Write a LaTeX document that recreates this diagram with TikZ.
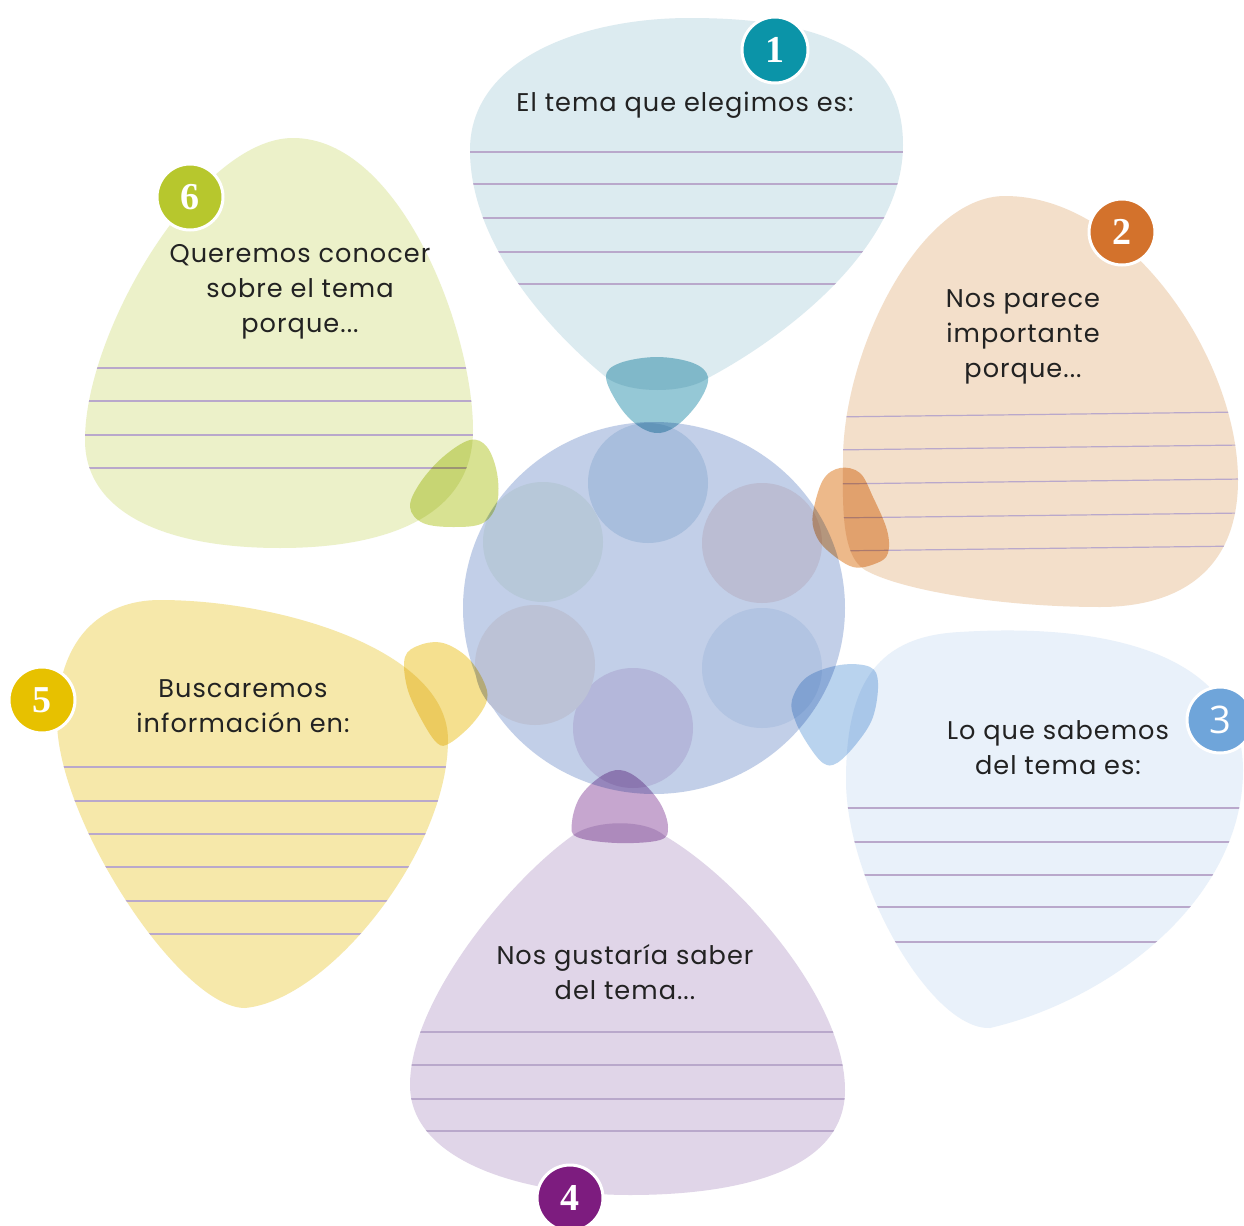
\documentclass[tikz,border=0pt]{standalone}
\usepackage{fontspec}
\newfontfamily\hand{Poppins}[LetterSpace=4]
\newfontfamily\numserif{Liberation Serif}
\newfontfamily\numsans{Open Sans}
\definecolor{colpa}{HTML}{DCEBF0}
\definecolor{colpb}{HTML}{F3DFCA}
\definecolor{colpc}{HTML}{E9F1FA}
\definecolor{colpd}{HTML}{E0D5E8}
\definecolor{colpe}{HTML}{F6E8AA}
\definecolor{colpf}{HTML}{ECF1C9}
\definecolor{colba}{HTML}{0B94A8}
\definecolor{colbb}{HTML}{D3722C}
\definecolor{colbc}{HTML}{6FA5DA}
\definecolor{colbd}{HTML}{7D1C7F}
\definecolor{colbe}{HTML}{E7C100}
\definecolor{colbf}{HTML}{B7C72D}
\definecolor{colca}{HTML}{95C8D6}
\definecolor{colcb}{HTML}{EDB98A}
\definecolor{colcc}{HTML}{B9D3EE}
\definecolor{colcd}{HTML}{C6A6CF}
\definecolor{colce}{HTML}{F5E08F}
\definecolor{colcf}{HTML}{D8E292}
\definecolor{colmain}{HTML}{C2CFE8}
\definecolor{colia}{HTML}{A8BEDD}
\definecolor{colib}{HTML}{BBBDD3}
\definecolor{colic}{HTML}{B2C4E2}
\definecolor{colid}{HTML}{B4B7DA}
\definecolor{colie}{HTML}{BCC2D6}
\definecolor{colif}{HTML}{B7C8D9}
\definecolor{colline}{HTML}{B9A8CB}
\definecolor{coltxt}{HTML}{222222}
\begin{document}
\begin{tikzpicture}[x=0.5pt,y=-0.5pt,
  lbl/.style={font={\hand\fontsize{12.8}{17.5}\selectfont}, text=coltxt, align=center, inner sep=0},
  badge/.style={circle, draw=white, line width=1.5pt, minimum size=33pt, inner sep=0, text=white, font={\numserif\bfseries\fontsize{19}{19}\selectfont}},
  rule/.style={draw=colline, line width=0.6pt},
  cup/.style={smooth cycle, tension=0.6}
]
\useasboundingbox (0,0) rectangle (1244,1226);
\fill[white] (0,0) rectangle (1244,1226);
% petal 1 (top)
\begin{scope}
\clip (690,18) .. controls (820,18) and (903,50) .. (903,145)
  .. controls (903,250) and (780,340) .. (708,378)
  .. controls (685,394) and (630,394) .. (607,378)
  .. controls (560,340) and (470,250) .. (470,150)
  .. controls (470,60) and (580,18) .. (690,18) -- cycle;
\fill[colpa] (0,0) rectangle (1244,1226);
\foreach \y in {152,184,218,252,284} \draw[rule] (400,\y) -- (950,\y);
\end{scope}
% petal 2 (right top)
\begin{scope}
\clip (1005,196) .. controls (1130,196) and (1238,360) .. (1238,480)
  .. controls (1238,570) and (1180,607) .. (1100,607)
  .. controls (1000,607) and (900,590) .. (865,570)
  .. controls (840,555) and (843,500) .. (843,460)
  .. controls (843,350) and (920,196) .. (1005,196) -- cycle;
\fill[colpb] (0,0) rectangle (1244,1226);
\foreach \y in {417,450,484,518,551} \draw[rule] (830,\y) -- (1244,\y-5);
\end{scope}
% petal 3 (right bottom)
\begin{scope}
\clip (960,632) .. controls (1120,622) and (1243,660) .. (1243,770)
  .. controls (1243,900) and (1110,1000) .. (990,1028)
  .. controls (930,1030) and (846,880) .. (846,780)
  .. controls (846,680) and (880,636) .. (960,632) -- cycle;
\fill[colpc] (0,0) rectangle (1244,1226);
\foreach \y in {808,842,875,907,942} \draw[rule] (830,\y) -- (1244,\y);
\end{scope}
% petal 4 (bottom)
\begin{scope}
\clip (665,836) .. controls (740,880) and (845,1000) .. (845,1090)
  .. controls (845,1170) and (740,1195) .. (630,1195)
  .. controls (520,1195) and (410,1160) .. (410,1085)
  .. controls (410,1000) and (510,880) .. (572,836)
  .. controls (592,820) and (645,818) .. (665,836) -- cycle;
\fill[colpd] (0,0) rectangle (1244,1226);
\foreach \y in {1032,1065,1099,1131} \draw[rule] (400,\y) -- (860,\y);
\end{scope}
% petal 5 (left bottom)
\begin{scope}
\clip (160,600) .. controls (280,600) and (448,650) .. (448,740)
  .. controls (448,850) and (330,1000) .. (245,1008)
  .. controls (180,1008) and (57,820) .. (57,720)
  .. controls (57,640) and (100,600) .. (160,600) -- cycle;
\fill[colpe] (0,0) rectangle (1244,1226);
\foreach \y in {767,801,834,867,901,934} \draw[rule] (40,\y) -- (460,\y);
\end{scope}
% petal 6 (left top)
\begin{scope}
\clip (293,138) .. controls (400,138) and (473,330) .. (473,430)
  .. controls (473,520) and (380,548) .. (280,548)
  .. controls (160,548) and (85,510) .. (85,440)
  .. controls (85,330) and (200,138) .. (293,138) -- cycle;
\fill[colpf] (0,0) rectangle (1244,1226);
\foreach \y in {368,401,435,468} \draw[rule] (70,\y) -- (490,\y);
\end{scope}
% centre
\fill[colmain] (654,608) ellipse [x radius=191, y radius=186];
\fill[colia] (648,483) circle (60);
\fill[colib] (762,543) circle (60);
\fill[colic] (762,668) circle (60);
\fill[colid] (633,728) circle (60);
\fill[colie] (535,665) circle (60);
\fill[colif] (543,542) circle (60);
% cups
\begin{scope}[blend mode=multiply]
\fill[colca] plot[cup] coordinates {(606,377) (620,363) (657,357) (693,363) (708,377) (700,400) (680,423) (660,433) (640,427) (620,407)};
\fill[colcb] plot[cup] coordinates {(813,513) (823,480) (840,468) (860,473) (873,497) (887,530) (888,553) (877,563) (853,567) (827,550) (815,533)};
\fill[colcc] plot[cup] coordinates {(792,700) (807,677) (840,665) (870,667) (878,683) (873,717) (857,743) (837,763) (823,763) (807,743) (795,720)};
\fill[colcd] plot[cup] coordinates {(572,822) (580,797) (600,777) (620,770) (640,780) (660,803) (668,827) (660,840) (617,843) (577,837)};
\fill[colce] plot[cup] coordinates {(405,657) (420,645) (443,643) (467,657) (483,680) (487,700) (473,723) (450,743) (437,743) (420,717) (407,687)};
\fill[colcf] plot[cup] coordinates {(410,507) (420,483) (443,457) (470,440) (487,447) (497,473) (497,503) (483,523) (453,527) (423,523)};
\end{scope}
% labels
\node[lbl] (t1) at (685,105) {El tema que elegimos es:};
\node[lbl] (t2) at (1023,337) {Nos parece\\importante\\porque...};
\node[lbl] (t3) at (1058,748) {Lo que sabemos\\del tema es:};
\node[lbl] (t4) at (625,972) {Nos gustaría saber\\del tema...};
\node[lbl] (t5) at (243,706) {Buscaremos\\información en:};
\node[lbl] (t6) at (300,292) {Queremos conocer\\sobre el tema\\porque...};
% badges
\node[badge, fill=colba] (n1) at (775,50) {1};
\node[badge, fill=colbb] (n2) at (1122,232) {2};
\node[badge, fill=colbc, font={\numsans\fontsize{19}{19}\selectfont}] (n3) at (1220,720) {3};
\node[badge, fill=colbd] (n4) at (570,1198) {4};
\node[badge, fill=colbe] (n5) at (42,700) {5};
\node[badge, fill=colbf] (n6) at (190,197) {6};
\end{tikzpicture}
\end{document}
